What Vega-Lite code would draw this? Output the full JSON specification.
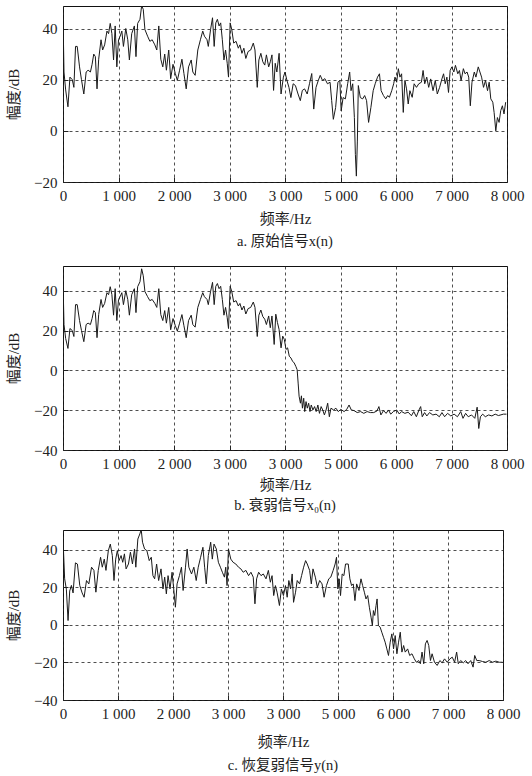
{
  "$schema": "https://vega.github.io/schema/vega-lite/v6.json",
  "padding": {"left": 6, "top": 5, "right": 4, "bottom": 0},
  "spacing": 16,
  "background": "white",
  "config": {
    "font": "'Liberation Serif', 'Noto Sans CJK SC', serif",
    "view": {"stroke": "#111", "strokeWidth": 1},
    "axis": {
      "labelFont": "'Liberation Serif', 'Noto Sans CJK SC', serif",
      "labelFontSize": 15,
      "labelColor": "#222",
      "titleFont": "'Liberation Serif', 'Noto Sans CJK SC', serif",
      "titleFontSize": 15,
      "titleFontWeight": "normal",
      "titleColor": "#222",
      "grid": true,
      "gridColor": "#222",
      "gridDash": [3, 3],
      "gridWidth": 0.8,
      "ticks": true,
      "tickSize": -5,
      "tickColor": "#222",
      "tickWidth": 1,
      "domain": false,
      "labelFlush": false,
      "labelOverlap": false,
      "labelPadding": 11
    },
    "axisY": {"titlePadding": 12},
    "title": {"font": "'Liberation Serif', 'Noto Sans CJK SC', serif", "fontSize": 14.5, "fontWeight": "normal", "color": "#222", "orient": "bottom", "anchor": "middle"}
  },
  "datasets": {
    "a": [
      {"f":0,"v":45},{"f":18,"v":23},{"f":48,"v":16},{"f":89,"v":9.4},{"f":125,"v":21},{"f":167,"v":20},{"f":196,"v":17},{"f":226,"v":33},{"f":256,"v":33},{"f":298,"v":25},{"f":333,"v":20},{"f":375,"v":14.4},{"f":417,"v":23},{"f":452,"v":23.7},{"f":494,"v":23},{"f":524,"v":26},{"f":554,"v":30},{"f":583,"v":29},{"f":613,"v":16.4},{"f":643,"v":28},{"f":685,"v":35.6},{"f":714,"v":31.6},{"f":750,"v":33.6},{"f":792,"v":39},{"f":821,"v":38},{"f":851,"v":42},{"f":881,"v":38},{"f":911,"v":27.7},{"f":940,"v":41},{"f":970,"v":25},{"f":1000,"v":35.6},{"f":1030,"v":37},{"f":1060,"v":39},{"f":1089,"v":33},{"f":1131,"v":40},{"f":1167,"v":35.6},{"f":1196,"v":27.7},{"f":1238,"v":38},{"f":1286,"v":41},{"f":1315,"v":29},{"f":1345,"v":42},{"f":1387,"v":43.6},{"f":1417,"v":48.9},{"f":1446,"v":47.5},{"f":1476,"v":39.6},{"f":1524,"v":37},{"f":1565,"v":35},{"f":1607,"v":35.6},{"f":1655,"v":33.6},{"f":1690,"v":31.6},{"f":1726,"v":41},{"f":1762,"v":28},{"f":1798,"v":25},{"f":1833,"v":30},{"f":1863,"v":23.7},{"f":1905,"v":31.6},{"f":1940,"v":20.4},{"f":1982,"v":26},{"f":2024,"v":22.4},{"f":2060,"v":19.7},{"f":2101,"v":23.7},{"f":2143,"v":28},{"f":2179,"v":22.4},{"f":2220,"v":16.4},{"f":2262,"v":25},{"f":2310,"v":27.7},{"f":2339,"v":23},{"f":2381,"v":21.7},{"f":2429,"v":31.6},{"f":2476,"v":35.6},{"f":2518,"v":39},{"f":2548,"v":37},{"f":2595,"v":35.6},{"f":2618,"v":33},{"f":2659,"v":39.6},{"f":2694,"v":44.2},{"f":2724,"v":33},{"f":2753,"v":42.2},{"f":2782,"v":43.6},{"f":2812,"v":41},{"f":2841,"v":42.2},{"f":2871,"v":35.6},{"f":2900,"v":27.7},{"f":2929,"v":31.6},{"f":2959,"v":26.4},{"f":2982,"v":21},{"f":3012,"v":42.2},{"f":3041,"v":39.6},{"f":3076,"v":34.3},{"f":3118,"v":35},{"f":3159,"v":32.3},{"f":3188,"v":33.6},{"f":3224,"v":30.3},{"f":3259,"v":32.3},{"f":3294,"v":28.3},{"f":3335,"v":31},{"f":3382,"v":31.6},{"f":3429,"v":34.3},{"f":3459,"v":31.6},{"f":3500,"v":17},{"f":3529,"v":27.7},{"f":3565,"v":30.3},{"f":3600,"v":27},{"f":3635,"v":25.7},{"f":3665,"v":29.7},{"f":3706,"v":25},{"f":3735,"v":27},{"f":3765,"v":29.7},{"f":3794,"v":15.8},{"f":3824,"v":26.4},{"f":3853,"v":23},{"f":3894,"v":30.3},{"f":3929,"v":14.4},{"f":3971,"v":21},{"f":4000,"v":23},{"f":4035,"v":19.7},{"f":4071,"v":17},{"f":4106,"v":13},{"f":4147,"v":18.4},{"f":4188,"v":17.7},{"f":4235,"v":14.4},{"f":4276,"v":11.8},{"f":4312,"v":15.8},{"f":4353,"v":16.4},{"f":4400,"v":14.4},{"f":4441,"v":18.4},{"f":4482,"v":22.4},{"f":4518,"v":8.5},{"f":4559,"v":17},{"f":4600,"v":19.7},{"f":4635,"v":21.7},{"f":4676,"v":19.7},{"f":4718,"v":20.4},{"f":4765,"v":18.4},{"f":4812,"v":19},{"f":4841,"v":11.8},{"f":4871,"v":4.5},{"f":4912,"v":9.1},{"f":4953,"v":19},{"f":4988,"v":19.7},{"f":5012,"v":7.8},{"f":5047,"v":13},{"f":5088,"v":12.5},{"f":5129,"v":18.4},{"f":5165,"v":23},{"f":5190,"v":15.7},{"f":5220,"v":18.4},{"f":5250,"v":5.2},{"f":5268,"v":-9.2},{"f":5286,"v":-17.7},{"f":5304,"v":-4},{"f":5321,"v":17.7},{"f":5357,"v":13},{"f":5399,"v":12.5},{"f":5435,"v":13.8},{"f":5470,"v":11.8},{"f":5506,"v":3.3},{"f":5548,"v":9.2},{"f":5589,"v":15.7},{"f":5625,"v":18.4},{"f":5667,"v":21},{"f":5702,"v":22.3},{"f":5732,"v":15.7},{"f":5774,"v":13.8},{"f":5815,"v":12.5},{"f":5851,"v":13.8},{"f":5881,"v":13.1},{"f":5923,"v":15.7},{"f":5958,"v":18.4},{"f":5982,"v":21},{"f":6012,"v":19},{"f":6042,"v":24.3},{"f":6071,"v":21},{"f":6101,"v":22.3},{"f":6131,"v":7.2},{"f":6161,"v":19.7},{"f":6190,"v":16.4},{"f":6220,"v":10.5},{"f":6250,"v":15.7},{"f":6292,"v":13.1},{"f":6327,"v":18.4},{"f":6369,"v":17},{"f":6411,"v":18.4},{"f":6458,"v":19},{"f":6488,"v":23.6},{"f":6518,"v":18.4},{"f":6554,"v":21},{"f":6589,"v":17},{"f":6625,"v":20.3},{"f":6667,"v":15.7},{"f":6708,"v":19.7},{"f":6744,"v":14.4},{"f":6786,"v":17},{"f":6827,"v":20.3},{"f":6857,"v":22.3},{"f":6887,"v":18.4},{"f":6917,"v":21},{"f":6946,"v":15},{"f":6976,"v":23.6},{"f":7006,"v":25},{"f":7042,"v":23},{"f":7071,"v":25.6},{"f":7113,"v":22.3},{"f":7143,"v":23.6},{"f":7173,"v":19.7},{"f":7214,"v":24.3},{"f":7244,"v":22.3},{"f":7280,"v":23},{"f":7310,"v":21},{"f":7339,"v":9.8},{"f":7369,"v":19},{"f":7411,"v":23},{"f":7440,"v":21},{"f":7482,"v":25},{"f":7512,"v":23},{"f":7542,"v":21},{"f":7577,"v":17},{"f":7613,"v":19.7},{"f":7649,"v":15.7},{"f":7679,"v":19},{"f":7708,"v":12.5},{"f":7744,"v":11.2},{"f":7768,"v":7.2},{"f":7798,"v":0},{"f":7827,"v":5.2},{"f":7857,"v":3.3},{"f":7887,"v":7.9},{"f":7917,"v":9.8},{"f":7946,"v":6.6},{"f":7976,"v":11.2}
    ],
    "b": [
      {"f":0,"v":45},{"f":18,"v":23},{"f":48,"v":16},{"f":89,"v":11},{"f":125,"v":21},{"f":167,"v":20},{"f":196,"v":17},{"f":226,"v":33},{"f":256,"v":33},{"f":298,"v":25},{"f":333,"v":20},{"f":375,"v":14.4},{"f":417,"v":23},{"f":452,"v":23.7},{"f":494,"v":23},{"f":524,"v":26},{"f":554,"v":30},{"f":583,"v":29},{"f":613,"v":16.4},{"f":643,"v":28},{"f":685,"v":35.6},{"f":714,"v":31.6},{"f":750,"v":33.6},{"f":792,"v":39},{"f":821,"v":38},{"f":851,"v":42},{"f":881,"v":38},{"f":911,"v":27.7},{"f":940,"v":41},{"f":970,"v":25},{"f":1000,"v":35.6},{"f":1030,"v":37},{"f":1060,"v":39},{"f":1089,"v":33},{"f":1131,"v":40},{"f":1167,"v":35.6},{"f":1196,"v":27.7},{"f":1238,"v":38},{"f":1286,"v":41},{"f":1315,"v":29},{"f":1345,"v":42},{"f":1387,"v":44.5},{"f":1417,"v":51},{"f":1446,"v":47.5},{"f":1476,"v":39.6},{"f":1524,"v":37},{"f":1565,"v":35},{"f":1607,"v":35.6},{"f":1655,"v":33.6},{"f":1690,"v":31.6},{"f":1726,"v":41},{"f":1762,"v":28},{"f":1798,"v":25},{"f":1833,"v":30},{"f":1863,"v":23.7},{"f":1905,"v":31.6},{"f":1940,"v":20.4},{"f":1982,"v":26},{"f":2024,"v":22.4},{"f":2060,"v":19.7},{"f":2101,"v":23.7},{"f":2143,"v":28},{"f":2179,"v":22.4},{"f":2220,"v":16.4},{"f":2262,"v":25},{"f":2310,"v":27.7},{"f":2339,"v":23},{"f":2381,"v":21.7},{"f":2429,"v":31.6},{"f":2476,"v":35.6},{"f":2518,"v":39},{"f":2548,"v":37},{"f":2595,"v":35.6},{"f":2618,"v":33},{"f":2659,"v":39.6},{"f":2694,"v":44.2},{"f":2724,"v":33},{"f":2753,"v":42.2},{"f":2782,"v":43.6},{"f":2812,"v":41},{"f":2841,"v":42.2},{"f":2871,"v":35.6},{"f":2900,"v":27.7},{"f":2929,"v":31.6},{"f":2959,"v":26.4},{"f":2982,"v":21},{"f":3012,"v":42.2},{"f":3041,"v":39.6},{"f":3076,"v":34.3},{"f":3118,"v":35},{"f":3159,"v":32.3},{"f":3188,"v":33.6},{"f":3224,"v":30.3},{"f":3259,"v":32.3},{"f":3294,"v":28.3},{"f":3335,"v":31},{"f":3382,"v":31.6},{"f":3429,"v":34.3},{"f":3459,"v":31.6},{"f":3500,"v":17},{"f":3529,"v":27.7},{"f":3565,"v":30.3},{"f":3600,"v":27},{"f":3635,"v":25.7},{"f":3665,"v":23},{"f":3706,"v":27.3},{"f":3735,"v":21.4},{"f":3765,"v":27.3},{"f":3805,"v":13},{"f":3834,"v":28.2},{"f":3864,"v":24},{"f":3893,"v":20.6},{"f":3929,"v":11.3},{"f":3959,"v":17.2},{"f":3988,"v":15.5},{"f":4018,"v":10.5},{"f":4047,"v":11.3},{"f":4077,"v":7.1},{"f":4107,"v":6.2},{"f":4136,"v":4.6},{"f":4166,"v":3.7},{"f":4195,"v":2},{"f":4219,"v":0.3},{"f":4237,"v":-6.4},{"f":4254,"v":-13},{"f":4278,"v":-16.5},{"f":4296,"v":-12.8},{"f":4314,"v":-19},{"f":4337,"v":-14},{"f":4355,"v":-20.7},{"f":4379,"v":-15.7},{"f":4402,"v":-19},{"f":4426,"v":-16.5},{"f":4450,"v":-20.7},{"f":4473,"v":-17.4},{"f":4503,"v":-19.9},{"f":4533,"v":-18.2},{"f":4562,"v":-20.7},{"f":4592,"v":-17.4},{"f":4621,"v":-21.6},{"f":4651,"v":-18.2},{"f":4680,"v":-19.9},{"f":4710,"v":-22.4},{"f":4740,"v":-19.9},{"f":4769,"v":-16.5},{"f":4799,"v":-23.3},{"f":4828,"v":-19},{"f":4876,"v":-19.9},{"f":4917,"v":-19},{"f":4959,"v":-20.7},{"f":5006,"v":-19.6},{"f":5065,"v":-20.7},{"f":5112,"v":-19.6},{"f":5154,"v":-17.4},{"f":5195,"v":-19.9},{"f":5243,"v":-20.2},{"f":5302,"v":-21.2},{"f":5361,"v":-20.7},{"f":5420,"v":-21.6},{"f":5479,"v":-20.7},{"f":5538,"v":-21.2},{"f":5598,"v":-21.2},{"f":5657,"v":-20.4},{"f":5692,"v":-18.2},{"f":5728,"v":-22.4},{"f":5775,"v":-20.2},{"f":5822,"v":-21.6},{"f":5864,"v":-19.9},{"f":5905,"v":-22},{"f":5953,"v":-20.7},{"f":6012,"v":-19.9},{"f":6059,"v":-21.9},{"f":6100,"v":-20.7},{"f":6160,"v":-21.6},{"f":6219,"v":-21},{"f":6278,"v":-22.8},{"f":6320,"v":-20.7},{"f":6367,"v":-23.3},{"f":6414,"v":-19.9},{"f":6444,"v":-18.2},{"f":6473,"v":-23.3},{"f":6515,"v":-21.2},{"f":6556,"v":-22.9},{"f":6604,"v":-21.2},{"f":6663,"v":-22.4},{"f":6722,"v":-22},{"f":6781,"v":-23.3},{"f":6828,"v":-21.2},{"f":6876,"v":-23.3},{"f":6929,"v":-21.6},{"f":6988,"v":-22.9},{"f":7047,"v":-22},{"f":7107,"v":-23.3},{"f":7166,"v":-20.7},{"f":7207,"v":-24.1},{"f":7254,"v":-21.6},{"f":7302,"v":-23.3},{"f":7361,"v":-22.4},{"f":7420,"v":-24.1},{"f":7462,"v":-18.5},{"f":7491,"v":-29.2},{"f":7521,"v":-23.3},{"f":7562,"v":-22},{"f":7609,"v":-23.3},{"f":7669,"v":-22.4},{"f":7728,"v":-22.9},{"f":7787,"v":-22},{"f":7846,"v":-22.7},{"f":7935,"v":-22},{"f":7990,"v":-22}
    ],
    "c": [
      {"f":0,"v":45.7},{"f":30,"v":24.5},{"f":61,"v":19},{"f":92,"v":2.3},{"f":122,"v":18},{"f":153,"v":21},{"f":183,"v":17},{"f":226,"v":33},{"f":262,"v":32.4},{"f":305,"v":21},{"f":348,"v":17},{"f":384,"v":14.7},{"f":427,"v":23.6},{"f":470,"v":21.8},{"f":519,"v":30.7},{"f":562,"v":29},{"f":598,"v":17.4},{"f":641,"v":29},{"f":683,"v":36},{"f":714,"v":30.7},{"f":750,"v":35},{"f":781,"v":29},{"f":824,"v":39.5},{"f":860,"v":43},{"f":897,"v":36.9},{"f":927,"v":23.6},{"f":958,"v":35},{"f":988,"v":39.5},{"f":1019,"v":34.2},{"f":1056,"v":36.9},{"f":1086,"v":33.3},{"f":1117,"v":37.8},{"f":1147,"v":29.8},{"f":1190,"v":32.4},{"f":1226,"v":38.7},{"f":1263,"v":32.4},{"f":1300,"v":40.4},{"f":1324,"v":30.7},{"f":1361,"v":45.7},{"f":1397,"v":48.4},{"f":1422,"v":50.7},{"f":1446,"v":44},{"f":1483,"v":40.4},{"f":1525,"v":39.5},{"f":1568,"v":34.2},{"f":1605,"v":36},{"f":1635,"v":26.2},{"f":1666,"v":24.5},{"f":1702,"v":32.4},{"f":1739,"v":23.6},{"f":1782,"v":29.8},{"f":1818,"v":19.1},{"f":1849,"v":25.4},{"f":1879,"v":16.5},{"f":1910,"v":26.2},{"f":1946,"v":19.1},{"f":1983,"v":28},{"f":2019,"v":17.4},{"f":2044,"v":9.4},{"f":2074,"v":21.8},{"f":2117,"v":26.2},{"f":2154,"v":30.7},{"f":2184,"v":18.3},{"f":2227,"v":30.7},{"f":2257,"v":40.4},{"f":2288,"v":30.7},{"f":2337,"v":27.1},{"f":2379,"v":30.7},{"f":2422,"v":23.6},{"f":2459,"v":30.7},{"f":2502,"v":36},{"f":2544,"v":41.3},{"f":2575,"v":30.7},{"f":2605,"v":21.8},{"f":2642,"v":36.9},{"f":2685,"v":44},{"f":2715,"v":35},{"f":2746,"v":43},{"f":2788,"v":40.4},{"f":2825,"v":33.3},{"f":2862,"v":30.7},{"f":2898,"v":28},{"f":2935,"v":25.4},{"f":2959,"v":30.7},{"f":2983,"v":20.9},{"f":3008,"v":40.4},{"f":3051,"v":35},{"f":3093,"v":33.3},{"f":3142,"v":32.4},{"f":3191,"v":30.7},{"f":3234,"v":29.8},{"f":3276,"v":28},{"f":3325,"v":29},{"f":3374,"v":26.2},{"f":3417,"v":28},{"f":3459,"v":25.4},{"f":3490,"v":11.2},{"f":3520,"v":24.5},{"f":3557,"v":28},{"f":3600,"v":26.2},{"f":3642,"v":27.1},{"f":3691,"v":24.5},{"f":3734,"v":29},{"f":3770,"v":22.7},{"f":3801,"v":26.2},{"f":3831,"v":15.6},{"f":3862,"v":20.9},{"f":3892,"v":17.4},{"f":3935,"v":10.3},{"f":3971,"v":19.1},{"f":4008,"v":15.6},{"f":4045,"v":20.9},{"f":4076,"v":14.7},{"f":4106,"v":23.6},{"f":4137,"v":19.1},{"f":4167,"v":27.1},{"f":4192,"v":12},{"f":4228,"v":17.4},{"f":4259,"v":23.6},{"f":4302,"v":21.8},{"f":4338,"v":26.2},{"f":4375,"v":30.7},{"f":4411,"v":34.2},{"f":4441,"v":32.4},{"f":4484,"v":29},{"f":4515,"v":21.8},{"f":4545,"v":29.8},{"f":4588,"v":25.4},{"f":4625,"v":20},{"f":4667,"v":23.6},{"f":4710,"v":21.8},{"f":4747,"v":14.7},{"f":4790,"v":20.9},{"f":4832,"v":24.5},{"f":4869,"v":25.4},{"f":4912,"v":29},{"f":4948,"v":32.4},{"f":4973,"v":36},{"f":4997,"v":19.1},{"f":5021,"v":24.5},{"f":5046,"v":15.6},{"f":5076,"v":27.1},{"f":5107,"v":26.2},{"f":5137,"v":32.4},{"f":5186,"v":32.4},{"f":5216,"v":24.5},{"f":5247,"v":20.9},{"f":5277,"v":21.8},{"f":5308,"v":12.9},{"f":5339,"v":21.8},{"f":5381,"v":18.3},{"f":5418,"v":24.5},{"f":5448,"v":20.9},{"f":5479,"v":17.4},{"f":5509,"v":13.8},{"f":5540,"v":15.6},{"f":5570,"v":9.4},{"f":5601,"v":4.1},{"f":5625,"v":-0.4},{"f":5644,"v":7.6},{"f":5668,"v":5},{"f":5692,"v":10.3},{"f":5711,"v":13.8},{"f":5735,"v":-0.4},{"f":5766,"v":-1.2},{"f":5796,"v":-3.9},{"f":5827,"v":-6.6},{"f":5857,"v":-9.2},{"f":5888,"v":-12.8},{"f":5918,"v":-16.3},{"f":5949,"v":-9.2},{"f":5979,"v":-4.8},{"f":6010,"v":-12.8},{"f":6040,"v":-5.7},{"f":6071,"v":-15.4},{"f":6101,"v":-9.2},{"f":6132,"v":-3.9},{"f":6162,"v":-14.5},{"f":6193,"v":-11},{"f":6223,"v":-14.5},{"f":6266,"v":-12.8},{"f":6303,"v":-16.3},{"f":6345,"v":-15.4},{"f":6388,"v":-18.1},{"f":6425,"v":-19.9},{"f":6467,"v":-19},{"f":6498,"v":-20.7},{"f":6528,"v":-14.5},{"f":6559,"v":-20.7},{"f":6589,"v":-10.1},{"f":6620,"v":-8.3},{"f":6650,"v":-11},{"f":6681,"v":-19},{"f":6711,"v":-15.4},{"f":6754,"v":-19.9},{"f":6803,"v":-21.6},{"f":6852,"v":-19},{"f":6894,"v":-20.2},{"f":6937,"v":-18.1},{"f":6986,"v":-19.9},{"f":7035,"v":-18.1},{"f":7077,"v":-17.2},{"f":7120,"v":-19.9},{"f":7157,"v":-14.5},{"f":7187,"v":-20.7},{"f":7230,"v":-19},{"f":7279,"v":-20.2},{"f":7321,"v":-19},{"f":7364,"v":-20.7},{"f":7413,"v":-19},{"f":7456,"v":-22.5},{"f":7486,"v":-16.3},{"f":7523,"v":-19},{"f":7566,"v":-19},{"f":7627,"v":-19.5},{"f":7688,"v":-19.9},{"f":7749,"v":-19},{"f":7810,"v":-19.9},{"f":7871,"v":-19.3},{"f":7932,"v":-19.9},{"f":7993,"v":-19.9}
    ]
  },
  "vconcat": [
    {
      "width": 444, "height": 176,
      "data": {"name": "a"},
      "title": {"text": "a. 原始信号x(n)", "offset": 9},
      "mark": {"type": "line", "color": "#1a1a1a", "strokeWidth": 1, "clip": true},
      "encoding": {
        "x": {"field": "f", "type": "quantitative", "scale": {"domain": [0, 8000], "nice": false},
              "axis": {"values": [0,1000,2000,3000,4000,5000,6000,7000,8000], "labelExpr": "datum.value == 0 ? '0' : (datum.value == 4000 ? '3 000' : format(datum.value/1000, 'd') + ' 000')", "title": "频率/Hz", "titlePadding": 8}},
        "y": {"field": "v", "type": "quantitative", "scale": {"domain": [-20, 48.8], "nice": false, "zero": false},
              "axis": {"values": [-20, 0, 20, 40], "title": "幅度/dB"}}
      }
    },
    {
      "width": 444, "height": 184,
      "data": {"name": "b"},
      "title": {"text": "b. 衰弱信号x₀(n)", "offset": 7},
      "mark": {"type": "line", "color": "#1a1a1a", "strokeWidth": 1, "clip": true},
      "encoding": {
        "x": {"field": "f", "type": "quantitative", "scale": {"domain": [0, 8000], "nice": false},
              "axis": {"values": [0,1000,2000,3000,4000,5000,6000,7000,8000], "labelExpr": "datum.value == 0 ? '0' : (datum.value == 4000 ? '3 000' : format(datum.value/1000, 'd') + ' 000')", "title": "频率/Hz", "titlePadding": 6}},
        "y": {"field": "v", "type": "quantitative", "scale": {"domain": [-40, 52.4], "nice": false, "zero": false},
              "axis": {"values": [-40, -20, 0, 20, 40], "title": "幅度/dB"}}
      }
    },
    {
      "width": 440, "height": 170,
      "data": {"name": "c"},
      "title": {"text": "c. 恢复弱信号y(n)", "offset": 10},
      "mark": {"type": "line", "color": "#1a1a1a", "strokeWidth": 1, "clip": true},
      "encoding": {
        "x": {"field": "f", "type": "quantitative", "scale": {"domain": [0, 8000], "nice": false},
              "axis": {"values": [0,1000,2000,3000,4000,5000,6000,7000,8000], "labelExpr": "datum.value == 0 ? '0' : (datum.value == 4000 ? '3 000' : format(datum.value/1000, 'd') + ' 000')", "title": "频率/Hz", "titlePadding": 13}},
        "y": {"field": "v", "type": "quantitative", "scale": {"domain": [-40, 50.5], "nice": false, "zero": false},
              "axis": {"values": [-40, -20, 0, 20, 40], "title": "幅度/dB"}}
      }
    }
  ]
}
